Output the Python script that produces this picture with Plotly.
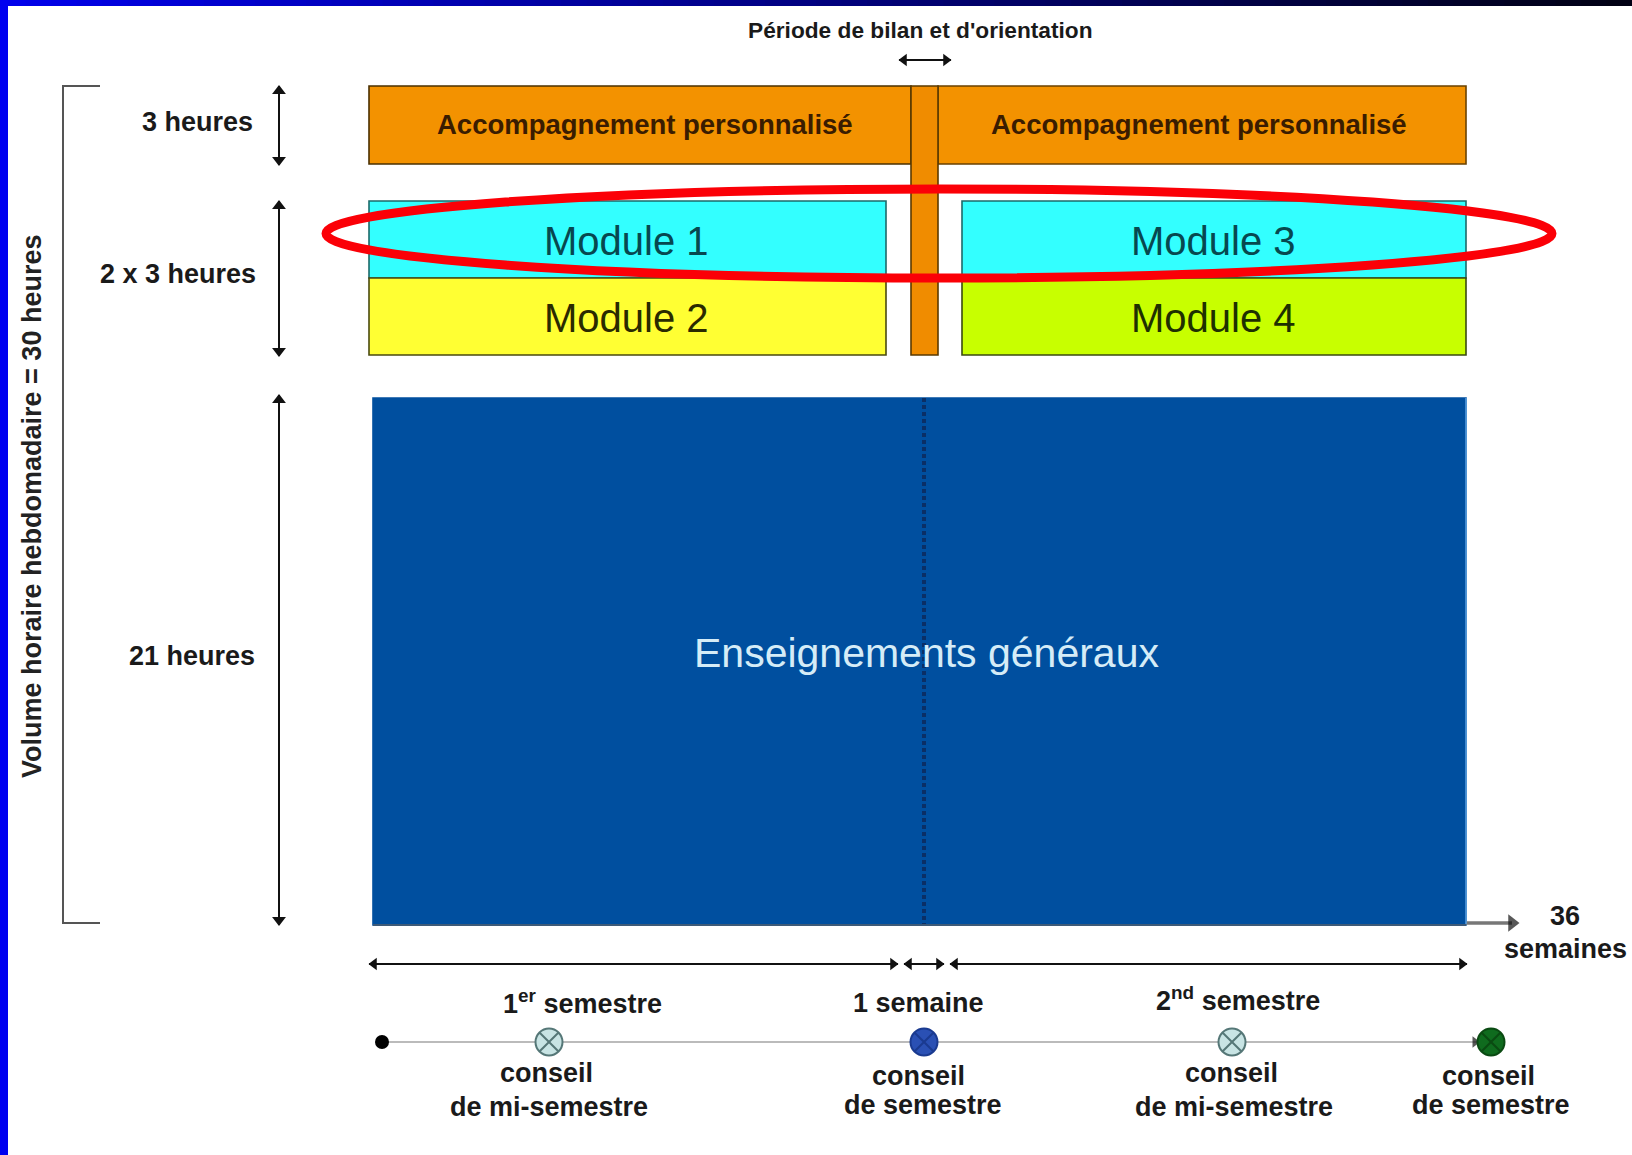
import plotly.graph_objects as go

W, H = 1632, 1155
FONT = "Liberation Sans"

# blocks
block_names = ["ap1", "ap2", "col", "m1", "m2", "m3", "m4", "eg"]
block_x0 = [369, 938, 911, 369, 369, 962, 962, 373]
block_x1 = [911, 1466, 938, 886, 886, 1466, 1466, 1466]
block_y0 = [86, 86, 86, 201, 278, 201, 278, 398]
block_y1 = [164, 164, 355, 278, 355, 278, 355, 925]
block_fill = ["#f39200", "#f39200", "#f08c00", "#33ffff", "#ffff33", "#33ffff", "#c8ff00", "#004f9f"]
block_line = ["#4a3000", "#6a4200", "#5a3a00", "#1d6a6a", "#4a4a10", "#1d6a6a", "#3a4a10", "#004f9f"]

# texts
text_s = ["Période de bilan et d'orientation", "3 heures", "2 x 3 heures", "21 heures",
          "Accompagnement personnalisé", "Accompagnement personnalisé",
          "Module 1", "Module 2", "Module 3", "Module 4", "Enseignements généraux",
          "36", "semaines", "1<sup>er</sup> semestre", "1 semaine", "2<sup>nd</sup> semestre",
          "conseil", "de mi-semestre", "conseil", "de semestre", "conseil", "de mi-semestre",
          "conseil", "de semestre"]
text_x = [920, 197, 178, 192, 645, 1199, 626, 626, 1213, 1213, 926,
          1565, 1565, 582, 918, 1238, 546, 549, 918, 923, 1231, 1234, 1488, 1491]
text_y = [30, 122, 274, 656, 124, 124, 241, 318, 241, 318, 653,
          916, 949, 1002, 1003, 999, 1073, 1107, 1076, 1105, 1073, 1107, 1076, 1105]
text_size = [22.7, 27, 27, 27, 27.5, 27.5, 40, 40, 40, 40, 41,
             27, 27, 27, 27, 27, 27, 27, 27, 27, 27, 27, 27, 27]
text_bold = [1, 1, 1, 1, 1, 1, 0, 0, 0, 0, 0,
             1, 1, 1, 1, 1, 1, 1, 1, 1, 1, 1, 1, 1]
text_col = ["#1a1a1a"] * 4 + ["#3a1c00"] * 2 + ["#07484f", "#2a2a00", "#07484f", "#1e3000", "#d5ecf7"] + ["#1a1a1a"] * 13

# double arrows
arrow_x0 = [899, 279, 279, 279, 369, 904, 950]
arrow_y0 = [60, 86, 201, 395, 964, 964, 964]
arrow_x1 = [951, 279, 279, 279, 898, 944, 1467]
arrow_y1 = [60, 165, 356, 925, 964, 964, 964]

# timeline
council_x = [549, 924, 1232, 1491]
council_fill = ["#c8e4e4", "#2a50b4", "#c8e4e4", "#0f6b1e"]
council_line = ["#557777", "#1a3a90", "#557777", "#0a4a12"]
timeline_y = 1042
timeline_start = 382

shapes = []
n = 64
for i in range(n):
    t = i / (n - 1)
    b = int(235 * (1 - t) + 20 * t)
    shapes.append(dict(type="rect", xref="x", yref="y", x0=W * i / n, x1=W * (i + 1) / n + 1,
                       y0=0, y1=6, fillcolor=f"rgb(0,0,{b})", line_width=0, layer="above"))
shapes.append(dict(type="rect", xref="x", yref="y", x0=0, x1=8, y0=0, y1=H,
                   fillcolor="#0000f0", line_width=0, layer="above"))
for i, name in enumerate(block_names):
    shapes.append(dict(type="rect", xref="x", yref="y", x0=block_x0[i], x1=block_x1[i],
                       y0=block_y0[i], y1=block_y1[i], fillcolor=block_fill[i],
                       line=dict(color=block_line[i], width=1.6), layer="below"))
shapes.append(dict(type="line", xref="x", yref="y", x0=924, x1=924, y0=398, y1=925,
                   line=dict(color="#0a2f66", width=4, dash="4px,3px")))
shapes.append(dict(type="line", xref="x", yref="y", x0=373, x1=1466, y0=925, y1=925,
                   line=dict(color="#3d5a78", width=2)))
shapes.append(dict(type="line", xref="x", yref="y", x0=1466, x1=1466, y0=398, y1=924,
                   line=dict(color="#5aa0e0", width=1.5)))
shapes.append(dict(type="path", xref="x", yref="y", path="M 100 86 L 63 86 L 63 923 L 100 923",
                   line=dict(color="#555555", width=2)))
shapes.append(dict(type="circle", xref="x", yref="y", x0=326, x1=1552, y0=189, y1=278,
                   line=dict(color="#fb0007", width=9), layer="above"))

ann = []
for i, s in enumerate(text_s):
    label = f"<b>{s}</b>" if text_bold[i] else s
    ann.append(dict(x=text_x[i], y=text_y[i], xref="x", yref="y", text=label, showarrow=False,
                    xanchor="center", yanchor="middle",
                    font=dict(family=FONT, size=text_size[i], color=text_col[i])))
ann.append(dict(x=32, y=507, xref="x", yref="y", text="<b>Volume horaire hebdomadaire = 30 heures</b>",
                showarrow=False, textangle=-90, xanchor="center", yanchor="middle",
                font=dict(family=FONT, size=27, color="#222222")))

fig = go.Figure()
fig.add_trace(go.Scatter(x=[timeline_start, 1478], y=[timeline_y, timeline_y], mode="lines",
                         line=dict(color="#bbbbbb", width=2), hoverinfo="skip"))
fig.add_trace(go.Scatter(x=[1466, 1512], y=[923, 923], mode="lines",
                         line=dict(color="#777777", width=3.5), hoverinfo="skip"))
INSET = 5
for x0, y0, x1, y1 in zip(arrow_x0, arrow_y0, arrow_x1, arrow_y1):
    horizontal = y0 == y1
    fig.add_trace(go.Scatter(x=[x0, x1], y=[y0, y1], mode="lines",
                             line=dict(color="#111111", width=2), hoverinfo="skip"))
    if horizontal:
        heads_x, heads_y = [x0 + INSET, x1 - INSET], [y0, y1]
        syms = ["triangle-left", "triangle-right"]
    else:
        heads_x, heads_y = [x0, x1], [y0 + INSET, y1 - INSET]
        syms = ["triangle-up", "triangle-down"]
    fig.add_trace(go.Scatter(x=heads_x, y=heads_y, mode="markers", hoverinfo="skip",
                             marker=dict(symbol=syms, size=11 if horizontal else 12,
                                         color="#111111", line_width=0)))
fig.add_trace(go.Scatter(x=[1512, 1475], y=[923, timeline_y], mode="markers", hoverinfo="skip",
                         marker=dict(symbol="triangle-right", size=[15, 10], color="#111111", line_width=0)))
fig.add_trace(go.Scatter(x=[timeline_start], y=[timeline_y], mode="markers",
                         marker=dict(color="#000000", size=14), hoverinfo="skip"))
fig.add_trace(go.Scatter(x=council_x, y=[timeline_y] * len(council_x), mode="markers",
                         marker=dict(symbol="circle-x", color=council_fill, size=27,
                                     line=dict(color=council_line, width=2)),
                         hoverinfo="skip"))

fig.update_layout(
    width=W, height=H, margin=dict(l=0, r=0, t=0, b=0), autosize=False,
    paper_bgcolor="#ffffff", plot_bgcolor="#ffffff", showlegend=False,
    xaxis=dict(range=[0, W], visible=False, fixedrange=True),
    yaxis=dict(range=[H, 0], visible=False, fixedrange=True),
    shapes=shapes, annotations=ann, font=dict(family=FONT),
)
fig.write_html("out.html", config={"displayModeBar": False},
               post_script="document.body.style.margin='0';document.documentElement.style.overflow='hidden';")
